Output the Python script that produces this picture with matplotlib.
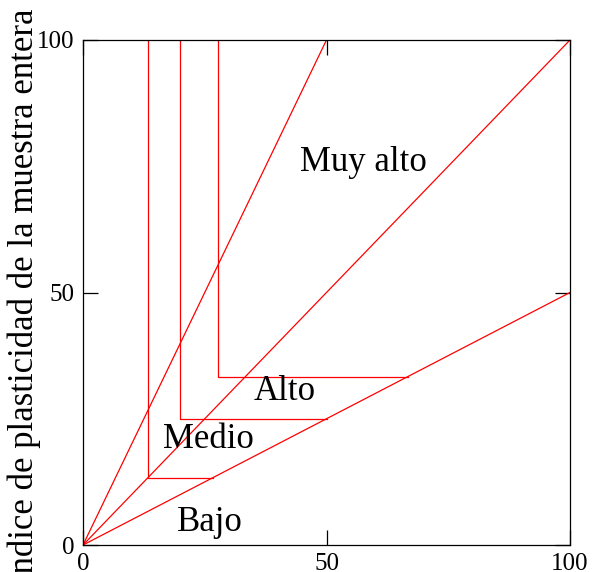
import matplotlib
matplotlib.use("Agg")
import matplotlib.pyplot as plt

plt.rcParams['font.family'] = ['Liberation Serif', 'DejaVu Serif']

# boundary lines (ratio lines from origin)
ratio_x = [[0, 50], [0, 100], [0, 100]]
ratio_y = [[0, 100], [0, 100], [0, 50]]

# step boundaries (vertical down then horizontal out)
step_x = [[13.33, 13.33, 26.67], [20, 20, 50], [27.7, 27.7, 66.67]]
step_y = [[100, 13.33, 13.33], [100, 25, 25], [100, 33.33, 33.33]]

# zone labels
zone_names = ["Muy alto", "Alto", "Medio", "Bajo"]
zone_x = [57.5, 41.5, 25.7, 26.0]
zone_y = [75.8, 30.3, 20.8, 4.5]

ticks = [0, 50, 100]

fig = plt.figure(figsize=(5.92, 5.72), dpi=100)
ax = fig.add_axes([83 / 592, 1 - 545 / 572, 487 / 592, 505 / 572])

for xs, ys in zip(ratio_x, ratio_y):
    ax.plot(xs, ys, color='red', lw=0.9)
for xs, ys in zip(step_x, step_y):
    ax.plot(xs, ys, color='red', lw=0.9)

for name, x, y in zip(zone_names, zone_x, zone_y):
    ax.text(x, y, name, fontsize=25, ha='center', va='center')

ax.set_xlim(0, 100)
ax.set_ylim(0, 100)
ax.set_xticks(ticks)
ax.set_yticks(ticks)
ax.tick_params(direction='in', length=11, width=0.9, labelsize=18,
               top=True, right=True, pad=6)
for s in ax.spines.values():
    s.set_linewidth(0.9)

fig.text(33 / 592, 1 - 297 / 572, "Índice de plasticidad de la muestra entera",
         rotation=90, rotation_mode='anchor', ha='center', va='baseline',
         fontsize=25)

fig.savefig("out.png", dpi=100)
